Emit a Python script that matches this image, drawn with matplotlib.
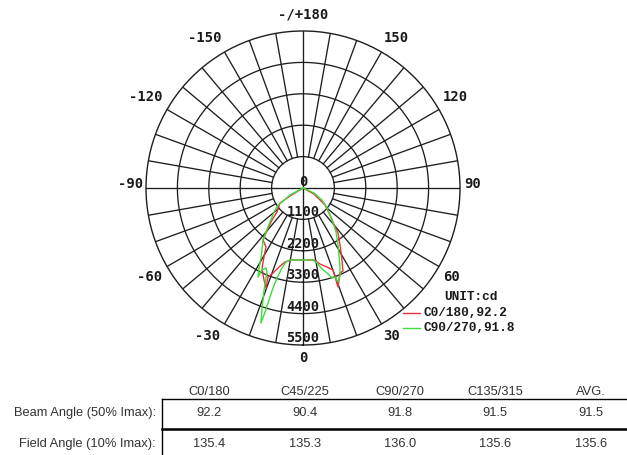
import numpy as np
import matplotlib
matplotlib.use("Agg")
import matplotlib.pyplot as plt
from matplotlib.lines import Line2D

# ---------------- data ----------------
c0_angles = [-90, -58.4, -56.9, -47.3, -44.1, -39.4, -37.6, -32.1, -29.5, -27.1, -23.0,
             -20.3, -21.5, -19.4, -16.9, -13.7, -9.5, 0, 8.7, 12.6, 16.9, 20.1, 19.5,
             23.5, 25.7, 28.4, 33.0, 37.9, 39.4, 45.0, 52.3, 61.4, 90]
c0_values = [0, 535, 962, 1239, 1561, 2041, 2298, 2439, 2777, 3149, 3500,
             3735, 3350, 3157, 2893, 2668, 2557, 2522, 2551, 2728, 2893, 3058, 3678,
             3247, 3228, 2868, 2381, 1997, 1766, 1337, 974, 438, 0]

c90_angles = [-90, -61.7, -56.3, -55.8, -50.4, -44.1, -40.1, -37.6, -33.5, -31.0, -28.8,
              -26.8, -26.6, -24.8, -23.2, -20.9, -18.6, -17.3, -17.0, -16.9, -16.7,
              -16.1, -14.7, -12.9, -10.2, 0, 7.9, 10.6, 12.7, 15.8, 17.9, 19.8, 20.4,
              22.8, 25.1, 28.2, 31.6, 36.9, 42.2, 50.2, 57.7, 65.6, 90]
c90_values = [0, 517, 884, 1059, 1318, 1660, 2014, 2298, 2604, 2860, 3198,
              3493, 3212, 3087, 3201, 3825, 4509, 4955, 4545, 4100, 3657,
              3282, 2897, 2659, 2565, 2522, 2546, 2672, 2872, 3094, 3312, 3313, 3514,
              3344, 3056, 2665, 2343, 1927, 1513, 1094, 788, 423, 0]

ring_values = [1100, 2200, 3300, 4400, 5500]
ring_labels = ["1100", "2200", "3300", "4400", "5500"]
angle_labels = ["-/+180", "-150", "150", "-120", "120", "-90", "90",
                "-60", "60", "-30", "30", "0"]
legend_labels = ["C0/180,92.2", "C90/270,91.8"]
unit_label = "UNIT:cd"

table_cols = ["C0/180", "C45/225", "C90/270", "C135/315", "AVG."]
table_rows = ["Beam Angle (50% Imax):", "Field Angle (10% Imax):"]
beam_vals = ["92.2", "90.4", "91.8", "91.5", "91.5"]
field_vals = ["135.4", "135.3", "136.0", "135.6", "135.6"]

# ---------------- layout ----------------
W, H = 627, 455
fig = plt.figure(figsize=(W / 100, H / 100), dpi=100)
fig.patch.set_facecolor("white")

def fx(px):
    return px / W

def fy(py):
    return 1 - py / H

cx, cy, R = 303, 188, 157
ax = fig.add_axes([fx(cx - R), fy(cy + R), 2 * R / W, 2 * R / H], projection="polar")
ax.set_theta_zero_location("S")
ax.set_theta_direction(1)
ax.set_ylim(0, ring_values[-1])
ax.set_xticks([])
ax.set_yticks([])
ax.grid(False)
gcol = "#1e1e1e"
ax.spines["polar"].set_color(gcol)
ax.spines["polar"].set_linewidth(1.0)

tt = np.linspace(0, 2 * np.pi, 721)
for r in ring_values[:-1]:
    ax.plot(tt, np.full_like(tt, r), color=gcol, lw=0.95, zorder=1)
for d in range(0, 360, 10):
    t = np.deg2rad(d)
    r0 = 0 if d % 90 == 0 else ring_values[0]
    ax.plot([t, t], [r0, ring_values[-1]], color=gcol, lw=0.95, zorder=1)

red = "#e8323a"
green = "#3ddc3d"
ax.plot(np.deg2rad(c0_angles), c0_values, color=red, lw=1.0, zorder=3)
ax.plot(np.deg2rad(c90_angles), c90_values, color=green, lw=1.0, zorder=4)

mono = "DejaVu Sans Mono"
for r, lab in zip(ring_values, ring_labels):
    ax.annotate(lab, xy=(0, r), xytext=(0, 7), textcoords="offset pixels",
                ha="center", va="center", fontsize=9.8, family=mono,
                fontweight="bold", color="#1a1a1a", zorder=5)
ax.annotate("0", xy=(0, 0), xytext=(0, 6), textcoords="offset pixels",
            ha="center", va="center", fontsize=9.8, family=mono,
            fontweight="bold", color="#1a1a1a", zorder=5)

angle_pos = [(303, 15), (205, 38), (396, 38), (146, 97), (455, 97), (131, 184),
             (473, 184), (150, 277), (452, 277), (208, 336), (392, 336), (303, 358)]
for lab, (px, py) in zip(angle_labels, angle_pos):
    fig.text(fx(px), fy(py), lab, ha="center", va="center", fontsize=10,
             family=mono, fontweight="bold", color="#1a1a1a")

# legend
lm = "Liberation Mono"
fig.text(fx(471), fy(297), unit_label, ha="center", va="center", fontsize=9.2,
         family=lm, fontweight="bold", color="#1a1a1a")
for i, (lab, col) in enumerate(zip(legend_labels, [red, green])):
    yy = 313 + i * 15
    fig.add_artist(Line2D([fx(403), fx(420)], [fy(yy), fy(yy)], color=col, lw=1.0,
                          transform=fig.transFigure))
    fig.text(fx(423), fy(yy), lab, ha="left", va="center", fontsize=9.2,
             family=lm, fontweight="bold", color="#1a1a1a")

# table
sans = "Liberation Sans"
tcol = "#333333"
col_x = [209, 305, 400, 495, 591]
for x, lab in zip(col_x, table_cols):
    fig.text(fx(x), fy(392), lab, ha="center", va="center", fontsize=9.3,
             family=sans, color=tcol)
row_y = [413, 444]
for yy, lab, vals in zip(row_y, table_rows, [beam_vals, field_vals]):
    fig.text(fx(156), fy(yy), lab, ha="right", va="center", fontsize=9.3,
             family=sans, color=tcol)
    for x, v in zip(col_x, vals):
        fig.text(fx(x), fy(yy), v, ha="center", va="center", fontsize=9.3,
                 family=sans, color=tcol)

fig.add_artist(Line2D([fx(162), fx(627)], [fy(399), fy(399)], color="black", lw=1.0,
                      transform=fig.transFigure))
fig.add_artist(Line2D([fx(162), fx(627)], [fy(429), fy(429)], color="black", lw=1.8,
                      transform=fig.transFigure))
fig.add_artist(Line2D([fx(162), fx(162)], [fy(399), fy(455)], color="black", lw=1.0,
                      transform=fig.transFigure))

fig.savefig("out.png", dpi=100, facecolor="white")
